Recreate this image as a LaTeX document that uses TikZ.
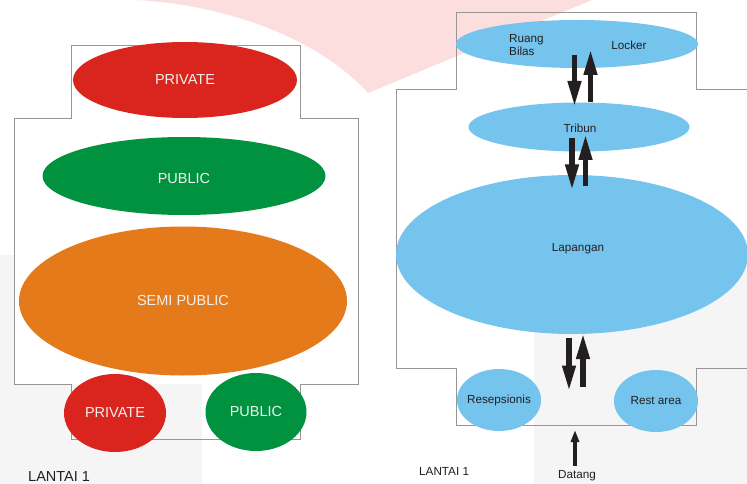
\documentclass[tikz,border=0pt]{standalone}
\usepackage{fontspec}
\setmainfont{Liberation Sans}
\usetikzlibrary{shapes.geometric,arrows.meta,calc}
\definecolor{cred}{RGB}{217,37,29}
\definecolor{cgreen}{RGB}{0,146,63}
\definecolor{corange}{RGB}{229,122,26}
\definecolor{cblue}{RGB}{117,196,238}
\definecolor{ink}{RGB}{35,31,32}
\definecolor{wm}{RGB}{253,222,222}
\definecolor{bggray}{RGB}{245,245,245}
\definecolor{wall}{RGB}{150,150,150}
\begin{document}
\begin{tikzpicture}[x=1pt,y=-1pt,
  ell/.style={ellipse,inner sep=0pt,draw=none},
  lbig/.style={text=white!94!black,font=\fontsize{14.5}{17}\selectfont,inner sep=0pt},
  lsmall/.style={text=ink,font=\fontsize{11.7}{13.5}\selectfont,inner sep=0pt},
  wallline/.style={draw=wall,line width=0.9pt},
  blk/.style={draw=ink,line width=5.5pt,-{Triangle[length=26pt,width=12.5pt]}},
  thin/.style={draw=ink,line width=3.5pt,-{Triangle[length=12pt,width=8pt]}}]
\useasboundingbox (0,0) rectangle (747,484);
\clip (0,0) rectangle (747,484);
\fill[white] (0,0) rectangle (747,484);
% watermark and background patches
\fill[wm] (136,0) .. controls (230,5) and (320,40) .. (368,93) -- (592,0) -- cycle;
\fill[bggray] (0,255) rectangle (202,484);
\fill[bggray] (534,255) rectangle (747,484);
% left outline
\fill[white] (14,118) rectangle (358,384);
\draw[wallline] (71,45) -- (300,45) -- (300,118) -- (358,118) -- (358,384) -- (300,384)
  -- (300,439) -- (71,439) -- (71,384) -- (14,384) -- (14,118) -- (71,118) -- cycle;
% right outline
\draw[wallline] (760,89) -- (696,89) -- (696,12) -- (456,12) -- (456,89) -- (396,89)
  -- (396,368) -- (456,368) -- (456,425) -- (696,425) -- (696,368) -- (760,368);
% left zones
\node[ell,fill=cred,minimum width=224pt,minimum height=76pt] (priv1) at (185,80) {};
\node[lbig] (tpriv1) at (priv1.center) {PRIVATE};
\node[ell,fill=cgreen,minimum width=283pt,minimum height=78pt] (pub1) at (184,176) {};
\node[lbig] (tpub1) at ($(pub1.center)+(0,3)$) {PUBLIC};
\node[ell,fill=corange,minimum width=328pt,minimum height=149pt] (semi) at (183,301) {};
\node[lbig] (tsemi) at (semi.center) {SEMI PUBLIC};
\node[ell,fill=cred,minimum width=102pt,minimum height=78pt] (priv2) at (115,413) {};
\node[lbig] (tpriv2) at (priv2.center) {PRIVATE};
\node[ell,fill=cgreen,minimum width=101pt,minimum height=78pt] (pub2) at (256,412) {};
\node[lbig] (tpub2) at (pub2.center) {PUBLIC};
\node[lbig,text=ink,anchor=west] (lant1) at (28,477) {LANTAI 1};
% right zones
\node[ell,fill=cblue,minimum width=242pt,minimum height=48pt] (locker) at (577,44) {};
\node[lsmall,align=left,anchor=west,font=\fontsize{11.7}{13}\selectfont] (ruang) at (509,45.5) {Ruang\\Bilas};
\node[lsmall] (tlocker) at (629,45) {Locker};
\node[ell,fill=cblue,minimum width=221pt,minimum height=49pt] (tribun) at (579,127) {};
\node[lsmall] (ttribun) at (580,128) {Tribun};
\node[ell,fill=cblue,minimum width=352pt,minimum height=159pt] (lap) at (572,254.5) {};
\node[lsmall] (tlap) at (578,249) {Lapangan};
\node[ell,fill=cblue,minimum width=84pt,minimum height=62pt] (resep) at (499,400) {};
\node[lsmall] (tresep) at (resep.center) {Resepsionis};
\node[ell,fill=cblue,minimum width=84pt,minimum height=62pt] (rest) at (656,401) {};
\node[lsmall] (trest) at (rest.center) {Rest area};
\node[lsmall,anchor=west] (lant2) at (419,471) {LANTAI 1};
\node[lsmall] (datang) at (577,476) {Datang};
\coordinate (entry) at (575,430);
% arrows
\draw[blk] ($(locker.center)+(-2.5,11)$) -- ($(tribun.center)+(-4.5,-20)$);
\draw[blk] ($(tribun.center)+(11.5,-25)$) -- ($(locker.center)+(13.5,5)$);
\draw[blk] ($(tribun.center)+(-7,11)$) -- ($(lap.center)+(0,-64)$);
\draw[blk] ($(lap.center)+(13.5,-68.5)$) -- ($(tribun.center)+(6.5,7)$);
\draw[blk] ($(lap.center)+(-3,83.5)$) -- ($(lap.center)+(-3,137)$);
\draw[blk] ($(lap.center)+(11,132)$) -- ($(lap.center)+(11,78.5)$);
\draw[thin] ($(datang.north)+(-2,-5)$) -- (entry);
\end{tikzpicture}
\end{document}
